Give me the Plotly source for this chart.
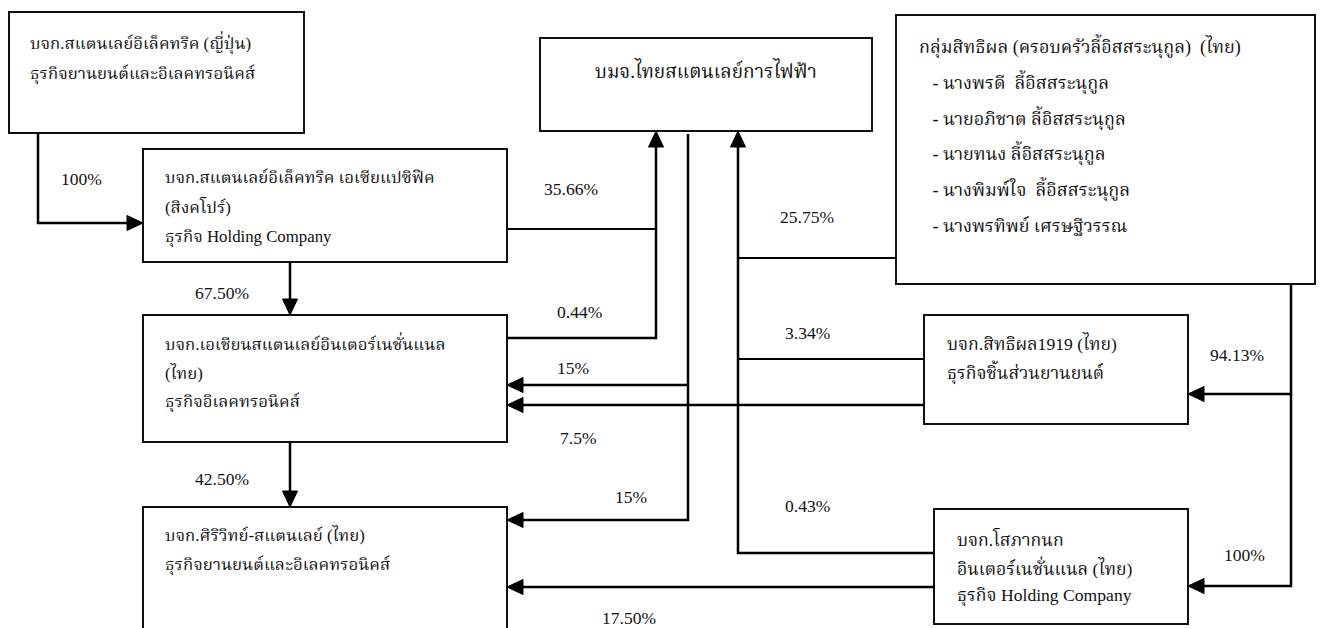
import plotly.graph_objects as go

# ---------------- data ----------------
company_keys = ["jp", "sg", "asi", "sst", "tse", "grp", "s1919", "sopha"]
company_lines = {
    "jp": ["บจก.สแตนเลย์อิเล็คทริค (ญี่ปุ่น)", "ธุรกิจยานยนต์และอิเลคทรอนิคส์"],
    "sg": ["บจก.สแตนเลย์อิเล็คทริค เอเซียแปซิฟิค", "(สิงคโปร์)", "ธุรกิจ Holding Company"],
    "asi": ["บจก.เอเชียนสแตนเลย์อินเตอร์เนชั่นแนล", "(ไทย)", "ธุรกิจอิเลคทรอนิคส์"],
    "sst": ["บจก.ศิริวิทย์-สแตนเลย์ (ไทย)", "ธุรกิจยานยนต์และอิเลคทรอนิคส์"],
    "tse": ["บมจ.ไทยสแตนเลย์การไฟฟ้า"],
    "grp": ["กลุ่มสิทธิผล (ครอบครัวลี้อิสสระนุกูล)  (ไทย)",
            "   - นางพรดี  ลี้อิสสระนุกูล",
            "   - นายอภิชาต ลี้อิสสระนุกูล",
            "   - นายทนง ลี้อิสสระนุกูล",
            "   - นางพิมพ์ใจ  ลี้อิสสระนุกูล",
            "   - นางพรทิพย์ เศรษฐีวรรณ"],
    "s1919": ["บจก.สิทธิผล1919 (ไทย)", "ธุรกิจชิ้นส่วนยานยนต์"],
    "sopha": ["บจก.โสภากนก", "อินเตอร์เนชั่นแนล (ไทย)", "ธุรกิจ Holding Company"],
}
holding_labels = ["100%", "67.50%", "42.50%", "35.66%", "0.44%", "15%", "15%",
                  "25.75%", "3.34%", "0.43%", "7.5%", "17.50%", "94.13%", "100%"]

# ---------------- geometry (layout only) ----------------
W, H = 1321, 628
box_geom = {
    "jp": (9, 12, 304, 133),
    "sg": (143, 149, 507, 262),
    "asi": (143, 315, 507, 442),
    "sst": (143, 507, 507, 660),
    "tse": (540, 38, 872, 131),
    "grp": (896, 15, 1315, 284),
    "s1919": (924, 315, 1188, 424),
    "sopha": (934, 509, 1188, 624),
}
text_pos = {  # x start, first-line y, line step, font size
    "jp": (28, 43, 31, 16.8),
    "sg": (163, 177, 30, 16.8),
    "asi": (163, 343, 29.5, 16.8),
    "sst": (163, 535, 30, 16.8),
    "grp": (917, 46, 35.8, 18),
    "s1919": (945, 343, 29, 17.6),
    "sopha": (955, 538, 29, 17.6),
}
# connector polylines: (points, arrow at end)
connectors = [
    ([(38, 133), (38, 223), (143, 223)], True),
    ([(290, 262), (290, 315)], True),
    ([(290, 442), (290, 507)], True),
    ([(507, 229), (656, 229)], False),
    ([(507, 338), (656, 338), (656, 131)], True),
    ([(688, 134), (688, 520), (507, 520)], True),
    ([(688, 385), (507, 385)], True),
    ([(896, 258), (738, 258)], False),
    ([(924, 359), (738, 359)], False),
    ([(934, 553), (738, 553), (738, 131)], True),
    ([(924, 405), (507, 405)], True),
    ([(934, 587), (507, 587)], True),
    ([(1291, 284), (1291, 394), (1188, 394)], True),
    ([(1291, 394), (1291, 586), (1188, 586)], True),
]
label_pos = [(59, 179), (193, 293), (193, 479), (542, 189), (555, 312), (555, 368),
             (613, 497), (778, 217), (783, 333), (783, 506), (558, 438), (600, 618),
             (1208, 355), (1222, 555)]

FONT = "Liberation Serif, Times New Roman, Noto Serif Thai, serif"
fig = go.Figure()
shapes = []
annotations = []

for k in company_keys:
    x0, y0, x1, y1 = box_geom[k]
    shapes.append(dict(type="rect", x0=x0, y0=y0, x1=x1, y1=y1, xref="x", yref="y",
                       line=dict(color="#111", width=2), fillcolor="rgba(0,0,0,0)"))
    lines = company_lines[k]
    if k == "tse":
        annotations.append(dict(x=(x0 + x1) / 2, y=70, text=lines[0], showarrow=False,
                                xanchor="center", yanchor="middle",
                                font=dict(family=FONT, size=19, color="#111")))
        continue
    tx, ty, step, fs = text_pos[k]
    for i, t in enumerate(lines):
        annotations.append(dict(x=tx, y=ty + i * step,
                                text=t.replace(" ", "&nbsp;") if t.startswith(" ") else t,
                                showarrow=False, xanchor="left", yanchor="middle",
                                font=dict(family=FONT, size=fs, color="#111")))

AL, AW = 16, 7.5
for pts, arrow in connectors:
    pts = list(pts)
    if arrow:
        (xa, ya), (xb, yb) = pts[-2], pts[-1]
        dx, dy = xb - xa, yb - ya
        L = (dx * dx + dy * dy) ** 0.5
        ux, uy = dx / L, dy / L
        bx, by = xb - ux * AL, yb - uy * AL
        px, py = -uy * AW, ux * AW
        shapes.append(dict(type="path", xref="x", yref="y",
                           path=f"M{xb},{yb} L{bx + px},{by + py} L{bx - px},{by - py} Z",
                           fillcolor="#000", line=dict(color="#000", width=1)))
        pts[-1] = (bx + ux * 2, by + uy * 2)
    path = "M" + " L".join(f"{x},{y}" for x, y in pts)
    shapes.append(dict(type="path", xref="x", yref="y", path=path,
                       line=dict(color="#000", width=2.5 if arrow else 2)))

for lab, (lx, ly) in zip(holding_labels, label_pos):
    annotations.append(dict(x=lx, y=ly, text=lab, showarrow=False, xanchor="left",
                            yanchor="middle", font=dict(family=FONT, size=17.5, color="#111")))

fig.update_layout(
    width=W, height=H, margin=dict(l=0, r=0, t=0, b=0),
    paper_bgcolor="white", plot_bgcolor="white",
    xaxis=dict(range=[0, W], visible=False, fixedrange=True),
    yaxis=dict(range=[H, 0], visible=False, fixedrange=True),
    shapes=shapes, annotations=annotations, showlegend=False,
)
fig.write_html("out.html", config={"displayModeBar": False},
               post_script="document.body.style.margin='0';document.body.style.overflow='hidden';")
